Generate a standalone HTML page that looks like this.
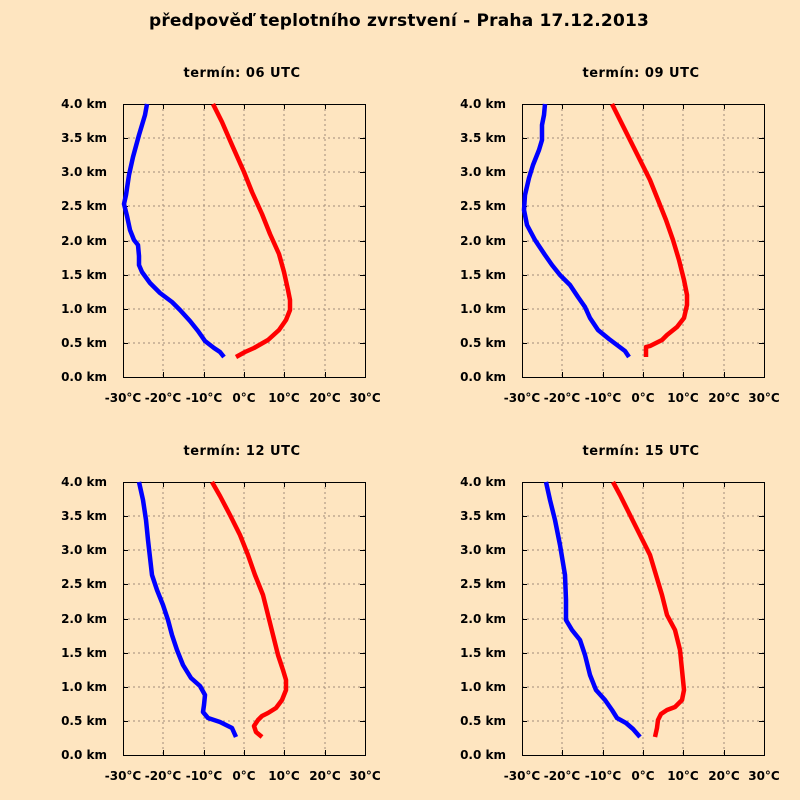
<!DOCTYPE html>
<html><head><meta charset="utf-8"><style>
html,body{margin:0;padding:0;background:#fee5c0;}
svg{display:block;font-family:"DejaVu Sans","Liberation Sans",sans-serif;}
</style></head><body>
<svg width="800" height="800" xmlns="http://www.w3.org/2000/svg">
<rect width="800" height="800" fill="#fee5c0"/>
<text x="399" y="26" text-anchor="middle" font-size="17" font-weight="bold" letter-spacing="0.2">předpověď teplotního zvrstvení - Praha 17.12.2013</text>
<defs>
<g id="ax">
 <g stroke="#a08c7a" stroke-width="1" stroke-dasharray="2,3">
  <line x1="40" y1="0" x2="40" y2="273"/><line x1="81" y1="0" x2="81" y2="273"/><line x1="121" y1="0" x2="121" y2="273"/><line x1="161" y1="0" x2="161" y2="273"/><line x1="202" y1="0" x2="202" y2="273"/>
  <line x1="0" y1="34" x2="242" y2="34"/><line x1="0" y1="68" x2="242" y2="68"/><line x1="0" y1="102" x2="242" y2="102"/><line x1="0" y1="137" x2="242" y2="137"/><line x1="0" y1="171" x2="242" y2="171"/><line x1="0" y1="205" x2="242" y2="205"/><line x1="0" y1="239" x2="242" y2="239"/>
 </g>
 <g stroke="#000" stroke-width="1">
  <path d="M40.5,0V5M81.5,0V5M121.5,0V5M161.5,0V5M202.5,0V5M40.5,273V268M81.5,273V268M121.5,273V268M161.5,273V268M202.5,273V268"/>
  <path d="M0,34.5H5M0,68.5H5M0,102.5H5M0,137.5H5M0,171.5H5M0,205.5H5M0,239.5H5M242,34.5H237M242,68.5H237M242,102.5H237M242,137.5H237M242,171.5H237M242,205.5H237M242,239.5H237"/>
 </g>
 <rect x="0.5" y="0.5" width="242" height="273" fill="none" stroke="#000" stroke-width="1"/>
 <g font-size="12" font-weight="bold" text-anchor="end">
  <text x="-16" y="4">4.0 km</text><text x="-16" y="38">3.5 km</text><text x="-16" y="72">3.0 km</text><text x="-16" y="106">2.5 km</text><text x="-16" y="141">2.0 km</text><text x="-16" y="175">1.5 km</text><text x="-16" y="209">1.0 km</text><text x="-16" y="243">0.5 km</text><text x="-16" y="277">0.0 km</text>
 </g>
 <g font-size="12" font-weight="bold" text-anchor="middle">
  <text x="0" y="298">-30°C</text><text x="40" y="298">-20°C</text><text x="81" y="298">-10°C</text><text x="121" y="298">0°C</text><text x="161" y="298">10°C</text><text x="202" y="298">20°C</text><text x="242" y="298">30°C</text>
 </g>
</g>
</defs>
<use href="#ax" x="123" y="104"/>
<use href="#ax" x="522" y="104"/>
<use href="#ax" x="123" y="482"/>
<use href="#ax" x="522" y="482"/>
<g font-size="13" font-weight="bold" text-anchor="middle" letter-spacing="0.5">
<text x="242" y="77">termín: 06 UTC</text>
<text x="641" y="77">termín: 09 UTC</text>
<text x="242" y="455">termín: 12 UTC</text>
<text x="641" y="455">termín: 15 UTC</text>
</g>
<g fill="none" stroke-width="4.5" stroke-linejoin="round">
<polyline stroke="#f00" points="213,104 222,122 232,145 244,172 252,192 262,214 270,234 279,254 284,272 288,290 290,300 290,310 286,320 279,330 268,340 254,348 245,352 236,357"/>
<polyline stroke="#00f" points="147,104 145,115 139,135 133,157 129,175 126,195 124,204 127,216 130,230 134,240 138,245 139,256 139,265 142,272 150,283 160,293 172,302 180,310 190,321 198,331 205,341 214,348 220,352 224,357"/>
<polyline stroke="#f00" points="612,104 620,120 630,140 640,160 650,180 658,200 666,220 673,240 679,260 684,280 687,295 687,305 684,318 677,327 667,335 662,340 650,346 646,347 646,357"/>
<polyline stroke="#00f" points="545,104 544,115 542,125 542,140 539,150 533,165 529,178 525,195 524,210 527,225 535,240 545,255 552,265 560,275 570,285 578,297 585,307 590,318 598,330 609,339 617,345 625,351 629,357"/>
<polyline stroke="#f00" points="212,482 220,496 230,515 240,535 248,555 255,575 263,595 268,615 273,635 278,655 283,670 286,680 286,690 282,700 276,708 268,713 262,716 258,720 254,726 256,732 262,737"/>
<polyline stroke="#00f" points="139,482 143,500 146,520 148,540 152,575 157,590 163,605 168,620 172,635 177,650 183,665 191,678 200,686 205,695 204,705 203,712 208,718 220,722 232,728 236,737"/>
<polyline stroke="#f00" points="613,482 620,495 630,515 640,535 650,555 656,575 662,595 667,615 675,630 680,650 682,670 684,690 682,700 675,707 667,710 661,714 658,720 657,728 655,737"/>
<polyline stroke="#00f" points="546,482 550,500 555,520 560,545 565,575 566,600 566,620 572,630 580,640 585,655 590,675 596,690 605,700 612,710 617,718 626,723 633,729 640,737"/>
</g>
</svg>
</body></html>
